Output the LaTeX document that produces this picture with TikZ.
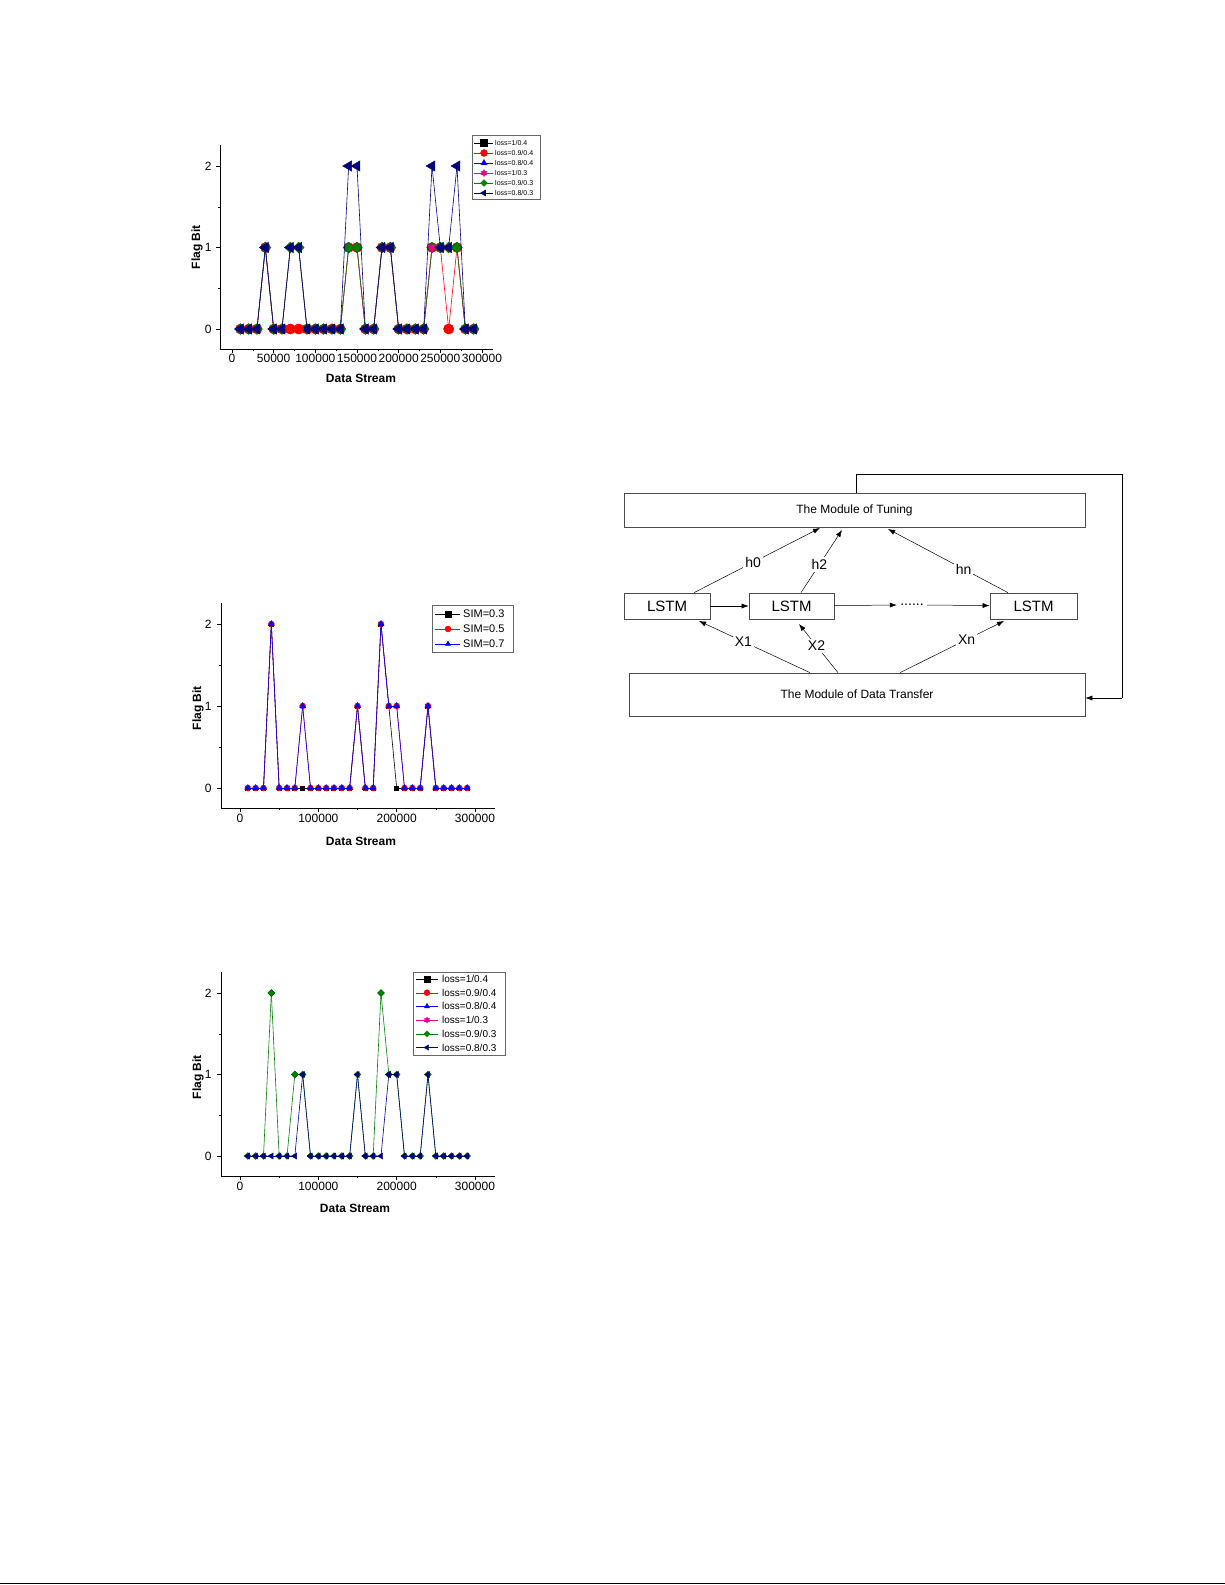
\documentclass[tikz,border=0pt]{standalone}
\usepackage{fontspec}
\setmainfont{Liberation Sans}
\usetikzlibrary{shapes.geometric,arrows.meta}
\newcommand\series[3]{%
 \foreach \v [count=\i, remember=\v as \lastv (initially 0)] in {#3}{%
   \ifnum\i>1 \pgfmathtruncatemacro\lastx{\i-1}\draw[#1] (\lastx,\lastv) -- (\i,\v);\fi}%
 \foreach \v [count=\i] in {#3} \node[#2] at (\i,\v) {};}
\tikzset{
 mcirc/.style={circle,fill=red,draw=red,inner sep=0,minimum size=#1},
 mdia/.style={diamond,fill=green!50!black,draw=green!40!black,inner sep=0,minimum size=#1},
 mtri/.style={regular polygon,regular polygon sides=3,fill=blue,draw=blue,inner sep=0,minimum size=#1},
 mleft/.style={regular polygon,regular polygon sides=3,shape border rotate=90,fill=blue!50!black,draw=blue!40!black,inner sep=0,minimum size=#1},
 msq/.style={rectangle,fill=black,inner sep=0,minimum size=#1},
 tl/.style={font=\fontsize{12}{12}\selectfont},
 box/.style={draw=black!70,line width=0.7pt,inner sep=0},
 arr/.style={-{Latex[length=7pt,width=5pt]},line width=0.5pt},
 lab/.style={fill=white,inner sep=2pt,font=\fontsize{14}{14}\selectfont},
}
\begin{document}
\begin{tikzpicture}[x=1pt,y=-1pt]
\useasboundingbox (0,0) rectangle (1225,1585);
\fill[white] (0,0) rectangle (1225,1585);
\draw[line width=1pt] (0,1583) -- (1225,1583);
% ---------- Plot 1 ----------
\draw[line width=0.8pt] (220,145) -- (220,349) -- (493,349);
\foreach \t/\l in {0/0,5/50000,10/100000,15/150000,20/200000,25/250000,30/300000}{
  \draw (232+\t*8.333,349) -- (232+\t*8.333,353);
  \node[tl,anchor=north,inner sep=1pt] at (232+\t*8.333,353) {\l};}
\foreach \t in {2.5,7.5,...,27.5} \draw (232+\t*8.333,349) -- (232+\t*8.333,351);
\foreach \v in {0,1,2}{\draw (220,329-\v*81.5) -- (216,329-\v*81.5);
  \node[tl,anchor=east] at (215,329-\v*81.5) {\v};}
\foreach \v in {0.5,1.5} \draw (220,329-\v*81.5) -- (218,329-\v*81.5);
\node[font=\bfseries\fontsize{12}{12}\selectfont] at (361,378) {Data Stream};
\node[font=\bfseries\fontsize{12}{12}\selectfont,rotate=90] at (197,247) {Flag Bit};
\begin{scope}[shift={(232pt,-329pt)},x=8.333pt,y=81.5pt]
 \series{red,line width=0.6pt}{mcirc=10pt}{0,0,0,1,0,0,0,0,0,0,0,0,0,1,1,0,0,1,1,0,0,0,0,1,1,0,1,0,0}
 \series{magenta,line width=0.6pt}{mdia=1pt}{0,0,0,1,0,0,1,1,0,0,0,0,0,1,1,0,0,1,1,0,0,0,0,1,1,1,1,0,0}
 \series{green!50!black,line width=0.6pt}{mdia=11pt}{0,0,0,1,0,0,1,1,0,0,0,0,0,1,1,0,0,1,1,0,0,0,0,1,1,1,1,0,0}
 \node[regular polygon,regular polygon sides=3,shape border rotate=180,fill=magenta,inner sep=0,minimum size=12pt] at (24,1) {};
 \series{blue!50!black,line width=0.6pt}{mleft=12pt}{0,0,0,1,0,0,1,1,0,0,0,0,0,2,2,0,0,1,1,0,0,0,0,2,1,1,2,0,0}
 \node[mcirc=10pt] at (26,0) {};
 \node[mcirc=10pt] at (7,0) {};\node[mcirc=10pt] at (8,0) {};
\end{scope}
\draw[black!60] (472,135) rectangle (540,199);
\foreach \c/\m/\t [count=\k] in {black/msq/loss=1\slash0.4, red/mcirc/loss=0.9\slash0.4, blue/mtri/loss=0.8\slash0.4, magenta/mtri/loss=1\slash0.3, green!50!black/mdia/loss=0.9\slash0.3, blue!50!black/mleft/loss=0.8\slash0.3}{
  \draw[\c] (474,133+\k*10) -- (493,133+\k*10);
  \node[\m=7pt,fill=\c,draw=\c] at (484,133+\k*10) {};
  \node[anchor=west,inner sep=1pt,font=\fontsize{7}{7}\selectfont] at (494,133+\k*10) {\t};}
\node[regular polygon,regular polygon sides=3,shape border rotate=180,fill=magenta,draw=magenta,inner sep=0,minimum size=7pt] at (484,173) {};
% ---------- Plot 2 ----------
\draw[line width=0.8pt] (221,603) -- (221,808) -- (495,808);
\foreach \t/\l in {0/0,10/100000,20/200000,30/300000}{
  \draw (240+\t*7.833,808) -- (240+\t*7.833,812);
  \node[tl,anchor=north,inner sep=1pt] at (240+\t*7.833,813) {\l};}
\foreach \t in {5,15,25} \draw (240+\t*7.833,808) -- (240+\t*7.833,810);
\foreach \v in {0,1,2}{\draw (221,788-\v*82) -- (217,788-\v*82);
  \node[tl,anchor=east] at (215,788-\v*82) {\v};}
\foreach \v in {0.5,1.5} \draw (221,788-\v*82) -- (219,788-\v*82);
\node[font=\bfseries\fontsize{12}{12}\selectfont] at (361,841) {Data Stream};
\node[font=\bfseries\fontsize{12}{12}\selectfont,rotate=90] at (198,708) {Flag Bit};
\begin{scope}[shift={(240pt,-788pt)},x=7.833pt,y=82pt]
 \series{black,line width=0.6pt}{msq=5pt}{0,0,0,2,0,0,0,0,0,0,0,0,0,0,1,0,0,2,1,0,0,0,0,1,0,0,0,0,0}
 \series{red,line width=0.6pt}{mcirc=6pt}{0,0,0,2,0,0,0,1,0,0,0,0,0,0,1,0,0,2,1,1,0,0,0,1,0,0,0,0,0}
 \series{blue,line width=0.6pt}{mtri=7pt}{0,0,0,2,0,0,0,1,0,0,0,0,0,0,1,0,0,2,1,1,0,0,0,1,0,0,0,0,0}
 \node[msq=5pt] at (8,0) {};\node[msq=5pt] at (20,0) {};
\end{scope}
\draw[black!60] (432,605) rectangle (513,652);
\foreach \c/\m/\t [count=\k] in {black/msq/SIM=0.3, red/mcirc/SIM=0.5, blue/mtri/SIM=0.7}{
  \draw[\c] (435,599+\k*15) -- (460,599+\k*15);
  \node[\m=6pt,fill=\c,draw=\c] at (448,599+\k*15) {};
  \node[anchor=west,inner sep=1pt,font=\fontsize{11}{11}\selectfont] at (462,599+\k*15) {\t};}
% ---------- Plot 3 ----------
\draw[line width=0.8pt] (221,972) -- (221,1176) -- (495,1176);
\foreach \t/\l in {0/0,10/100000,20/200000,30/300000}{
  \draw (240+\t*7.833,1176) -- (240+\t*7.833,1180);
  \node[tl,anchor=north,inner sep=1pt] at (240+\t*7.833,1181) {\l};}
\foreach \t in {5,15,25} \draw (240+\t*7.833,1176) -- (240+\t*7.833,1178);
\foreach \v in {0,1,2}{\draw (221,1156-\v*81.5) -- (217,1156-\v*81.5);
  \node[tl,anchor=east] at (215,1156-\v*81.5) {\v};}
\foreach \v in {0.5,1.5} \draw (221,1156-\v*81.5) -- (219,1156-\v*81.5);
\node[font=\bfseries\fontsize{12}{12}\selectfont] at (355,1208) {Data Stream};
\node[font=\bfseries\fontsize{12}{12}\selectfont,rotate=90] at (198,1077) {Flag Bit};
\begin{scope}[shift={(240pt,-1156pt)},x=7.833pt,y=81.5pt]
 \series{green!50!black,line width=0.6pt}{mdia=7pt}{0,0,0,2,0,0,1,1,0,0,0,0,0,0,1,0,0,2,1,1,0,0,0,1,0,0,0,0,0}
 \series{blue!50!black,line width=0.6pt}{mleft=7pt}{0,0,0,0,0,0,0,1,0,0,0,0,0,0,1,0,0,0,1,1,0,0,0,1,0,0,0,0,0}
 \node[mdia=7pt] at (4,2) {};\node[mdia=7pt] at (7,1) {};\node[mdia=7pt] at (18,2) {};
\end{scope}
\draw[black!60] (413,972) rectangle (505,1055);
\foreach \c/\m/\t [count=\k] in {black/msq/loss=1\slash0.4, red/mcirc/loss=0.9\slash0.4, blue/mtri/loss=0.8\slash0.4, magenta/mtri/loss=1\slash0.3, green!50!black/mdia/loss=0.9\slash0.3, blue!50!black/mleft/loss=0.8\slash0.3}{
  \draw[\c] (416,965.3+\k*13.7) -- (438,965.3+\k*13.7);
  \node[\m=6pt,fill=\c,draw=\c] at (427,965.3+\k*13.7) {};
  \node[anchor=west,inner sep=1pt,font=\fontsize{10}{10}\selectfont] at (441,965.3+\k*13.7) {\t};}
\node[regular polygon,regular polygon sides=3,shape border rotate=180,fill=magenta,draw=magenta,inner sep=0,minimum size=6pt] at (427,1020.1) {};
% ---------- Diagram ----------
\node[box,minimum width=461pt,minimum height=34pt,font=\fontsize{12}{12}\selectfont] (tun) at (854.5,510) {The Module of Tuning};
\node[box,minimum width=456pt,minimum height=43pt,font=\fontsize{12}{12}\selectfont] (dat) at (857,694.5) {The Module of Data Transfer};
\node[box,minimum width=86pt,minimum height=26pt,font=\fontsize{15}{15}\selectfont] (l1) at (667,606) {LSTM};
\node[box,minimum width=85pt,minimum height=26pt,font=\fontsize{15}{15}\selectfont] (l2) at (791.5,606) {LSTM};
\node[box,minimum width=87pt,minimum height=26pt,font=\fontsize{15}{15}\selectfont] (l3) at (1033.5,606) {LSTM};
\node[font=\fontsize{14}{14}\selectfont] (dots) at (912,605) {......};
\draw[arr] (l1) -- (l2);
\draw[arr] (l2) -- (dots.west);
\draw[arr] (dots.east) -- (l3);
\coordinate (fb1) at (856,474); \coordinate (fb2) at (1122,474); \coordinate (fb3) at (1122,698);
\draw[line width=0.5pt] (tun.north -| fb1) -- (fb1) -- (fb2) -- (fb3);
\draw[arr] (fb3) -- (fb3 -| dat.east);
\draw[arr] (l1.north -| 694,0) -- node[lab,pos=0.47]{h0} (820,528);
\draw[arr] (l2.north -| 801,0) -- node[lab,pos=0.45]{h2} (842,530);
\draw[arr] (l3.north -| 1008,0) -- node[lab,pos=0.37]{hn} (888,529);
\draw[arr] (dat.north -| 810,0) -- node[lab,pos=0.6]{X1} (699,621);
\draw[arr] (dat.north -| 838,0) -- node[lab,pos=0.55]{X2} (799,624);
\draw[arr] (dat.north -| 900,0) -- node[lab,pos=0.64]{Xn} (1004,621);
\end{tikzpicture}
\end{document}
